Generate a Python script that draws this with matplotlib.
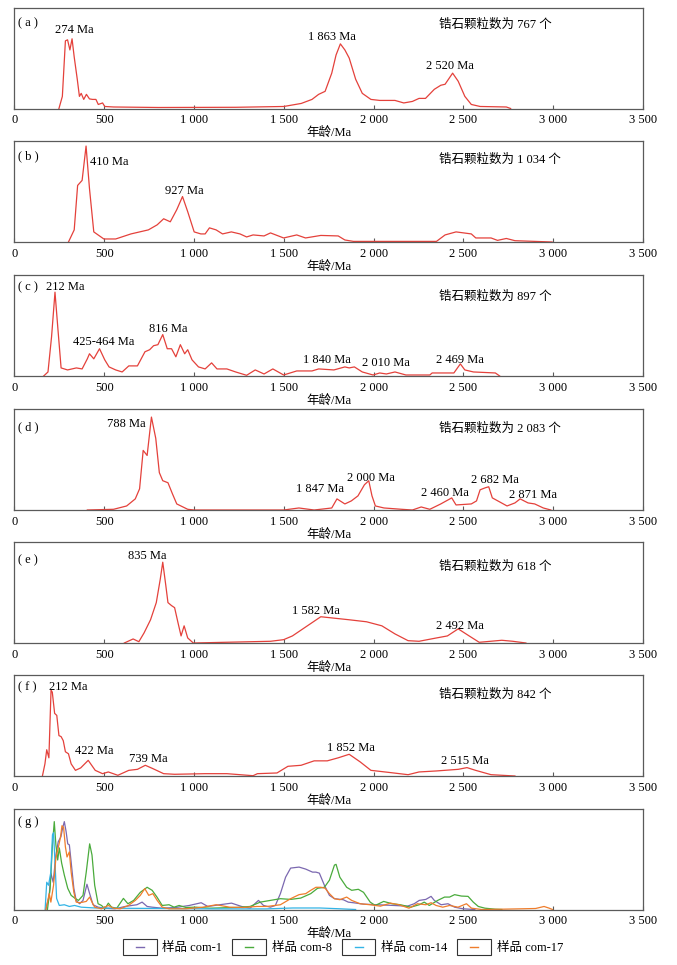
import numpy as np
import matplotlib
matplotlib.use('Agg')
import matplotlib.pyplot as plt
from matplotlib.legend_handler import HandlerBase
from matplotlib.patches import Rectangle
from matplotlib.lines import Line2D

plt.rcParams['font.family'] = ['Liberation Serif', 'Noto Sans CJK SC']
plt.rcParams['font.size'] = 9

# 各样品年龄谱 (年龄 Ma, 相对高度)
a_age = [248, 267, 284, 296, 309, 321, 333, 350, 362, 372, 386, 401, 418, 435, 454, 467, 491, 503,
         552, 800, 1232, 1500, 1597, 1657, 1694, 1730, 1767, 1791, 1815, 1840, 1864, 1900, 1937,
         1985, 2034, 2119, 2168, 2216, 2253, 2289, 2338, 2374, 2398, 2440, 2471, 2508, 2544, 2593,
         2739, 2763]
a_y = [0, 0.12, 0.67, 0.68, 0.58, 0.69, 0.51, 0.29, 0.12, 0.15, 0.09, 0.14, 0.095, 0.09, 0.09, 0.04,
       0.055, 0.02, 0.015, 0.01, 0.012, 0.02, 0.05, 0.09, 0.14, 0.17, 0.35, 0.53, 0.64, 0.58, 0.50,
       0.29, 0.15, 0.09, 0.08, 0.08, 0.055, 0.07, 0.10, 0.10, 0.19, 0.23, 0.24, 0.35, 0.27, 0.12,
       0.04, 0.02, 0.015, 0]

b_age = [301, 333, 352, 377, 399, 418, 442, 498, 564, 649, 746, 795, 831, 868, 904, 936, 965, 1001,
         1038, 1062, 1086, 1123, 1159, 1208, 1256, 1293, 1329, 1390, 1426, 1499, 1572, 1621, 1706,
         1803, 1840, 1888, 2350, 2398, 2459, 2544, 2569, 2654, 2690, 2739, 2787, 2994]
b_y = [0, 0.12, 0.56, 0.61, 0.95, 0.53, 0.10, 0.03, 0.03, 0.08, 0.12, 0.17, 0.23, 0.20, 0.32, 0.45,
       0.30, 0.10, 0.08, 0.08, 0.14, 0.12, 0.08, 0.10, 0.08, 0.05, 0.07, 0.06, 0.09, 0.04, 0.07, 0.04,
       0.065, 0.06, 0.02, 0.006, 0.006, 0.07, 0.10, 0.08, 0.04, 0.04, 0.016, 0.035, 0.013, 0]

c_age = [163, 187, 207, 226, 243, 260, 296, 345, 377, 406, 418, 442, 474, 503, 527, 564, 600, 637,
         685, 727, 753, 775, 799, 826, 851, 875, 899, 924, 948, 965, 989, 1025, 1062, 1098, 1128,
         1183, 1232, 1293, 1341, 1390, 1439, 1499, 1572, 1657, 1694, 1779, 1840, 1864, 1893, 1937,
         1997, 2034, 2071, 2119, 2180, 2313, 2326, 2447, 2483, 2508, 2556, 2678, 2702]
c_y = [0, 0.04, 0.39, 0.83, 0.45, 0.08, 0.06, 0.08, 0.07, 0.17, 0.22, 0.17, 0.27, 0.16, 0.09, 0.06,
       0.04, 0.10, 0.10, 0.24, 0.26, 0.30, 0.31, 0.41, 0.27, 0.27, 0.19, 0.31, 0.22, 0.26, 0.16, 0.09,
       0.07, 0.13, 0.07, 0.07, 0.04, 0.007, 0.06, 0.02, 0.07, 0.01, 0.05, 0.05, 0.07, 0.06, 0.09,
       0.08, 0.09, 0.04, 0.01, 0.03, 0.02, 0.04, 0.01, 0.01, 0.03, 0.03, 0.12, 0.06, 0.04, 0.03, 0]

d_age = [406, 552, 625, 673, 697, 717, 739, 763, 787, 807, 826, 855, 880, 904, 965, 1001, 1499, 1584,
         1669, 1767, 1796, 1840, 1876, 1913, 1949, 1973, 1991, 2010, 2058, 2156, 2216, 2265, 2313,
         2374, 2435, 2459, 2544, 2573, 2593, 2622, 2641, 2661, 2702, 2743, 2787, 2816, 2860, 2897,
         2945, 2987]
d_y = [0, 0.007, 0.04, 0.11, 0.21, 0.59, 0.54, 0.92, 0.71, 0.37, 0.29, 0.27, 0.16, 0.06, 0.007, 0,
       0, 0.02, 0, 0.02, 0.11, 0.06, 0.09, 0.14, 0.25, 0.29, 0.14, 0.04, 0.02, 0.007, 0, 0.03, 0.007,
       0.06, 0.12, 0.05, 0.06, 0.09, 0.20, 0.22, 0.23, 0.12, 0.08, 0.04, 0.07, 0.11, 0.07, 0.06,
       0.02, 0]

e_age = [612, 661, 693, 722, 758, 790, 812, 826, 843, 855, 875, 892, 911, 928, 945, 965, 996, 1426,
         1499, 1548, 1706, 1864, 1961, 2046, 2119, 2192, 2253, 2350, 2411, 2471, 2532, 2588, 2714,
         2775, 2848]
e_y = [0, 0.04, 0.013, 0.10, 0.23, 0.40, 0.63, 0.80, 0.57, 0.40, 0.37, 0.35, 0.20, 0.07, 0.17, 0.05,
       0, 0.017, 0.033, 0.07, 0.26, 0.23, 0.21, 0.17, 0.09, 0.023, 0.017, 0.05, 0.07, 0.14, 0.07,
       0.007, 0.027, 0.017, 0]

f_age = [156, 170, 180, 192, 204, 211, 224, 236, 248, 260, 272, 284, 301, 316, 340, 369, 411, 450,
         491, 523, 576, 637, 685, 729, 771, 831, 892, 1062, 1183, 1329, 1353, 1462, 1523, 1596, 1669,
         1742, 1803, 1864, 1925, 1985, 2083, 2192, 2253, 2350, 2471, 2520, 2568, 2654, 2787]
f_y = [0, 0.12, 0.26, 0.18, 0.85, 0.83, 0.62, 0.60, 0.40, 0.39, 0.35, 0.24, 0.22, 0.12, 0.056, 0.08,
       0.155, 0.056, 0.023, 0.04, 0.007, 0.056, 0.066, 0.106, 0.073, 0.023, 0.017, 0.023, 0.023,
       0.003, 0.023, 0.03, 0.096, 0.106, 0.15, 0.15, 0.18, 0.215, 0.14, 0.056, 0.036, 0.013, 0.04,
       0.05, 0.066, 0.083, 0.056, 0.013, 0]

# (g) 对比样品
g1_age = [175, 194, 203, 216, 231, 244, 259, 269, 278, 288, 297, 306, 316, 331, 344, 363, 382, 404,
          419, 438, 466, 504, 560, 617, 654, 682, 711, 739, 767, 823, 899, 974, 1040, 1077, 1143,
          1209, 1265, 1312, 1359, 1387, 1425, 1453, 1481, 1510, 1538, 1585, 1622, 1660, 1679, 1698,
          1726, 1754, 1782, 1831, 1859, 1887, 1944, 2019, 2113, 2188, 2226, 2254, 2291, 2320, 2338,
          2376, 2414, 2451, 2498, 2564]
g1_y = [0, 0.14, 0.36, 0.27, 0.54, 0.67, 0.72, 0.81, 0.87, 0.77, 0.65, 0.64, 0.47, 0.21, 0.09,
        0.057, 0.09, 0.25, 0.157, 0.047, 0.023, 0.013, 0.007, 0.03, 0.04, 0.047, 0.073, 0.03, 0.023,
        0.013, 0.02, 0.04, 0.067, 0.03, 0.047, 0.063, 0.03, 0.013, 0.09, 0.04, 0.023, 0.04, 0.157,
        0.32, 0.41, 0.42, 0.40, 0.37, 0.37, 0.36, 0.24, 0.14, 0.107, 0.097, 0.073, 0.067, 0.053,
        0.047, 0.04, 0.033, 0.057, 0.09, 0.10, 0.13, 0.09, 0.047, 0.057, 0.023, 0.007, 0]

g8_age = [184, 199, 212, 222, 231, 241, 250, 263, 278, 297, 316, 338, 357, 382, 400, 419, 432, 447,
          466, 485, 504, 523, 541, 570, 607, 632, 664, 701, 739, 767, 795, 823, 861, 889, 917, 955,
          1011, 1087, 1162, 1237, 1312, 1369, 1425, 1481, 1538, 1594, 1650, 1688, 1726, 1754, 1782,
          1791, 1812, 1850, 1878, 1915, 1944, 1981, 2009, 2056, 2103, 2150, 2207, 2254, 2282, 2310,
          2357, 2395, 2423, 2451, 2489, 2526, 2555, 2583, 2620, 2677, 2714]
g8_y = [0, 0.21, 0.64, 0.87, 0.64, 0.49, 0.61, 0.46, 0.34, 0.21, 0.14, 0.11, 0.09, 0.14, 0.37, 0.65,
        0.54, 0.24, 0.057, 0.04, 0.007, 0.063, 0.023, 0.013, 0.11, 0.057, 0.09, 0.17, 0.22, 0.19,
        0.12, 0.04, 0.047, 0.023, 0.04, 0.02, 0.023, 0.013, 0.017, 0.02, 0.03, 0.073, 0.09, 0.107,
        0.10, 0.113, 0.157, 0.21, 0.22, 0.29, 0.44, 0.447, 0.32, 0.22, 0.19, 0.20, 0.17, 0.073, 0.04,
        0.08, 0.057, 0.047, 0.023, 0.047, 0.073, 0.04, 0.09, 0.123, 0.123, 0.147, 0.133, 0.13, 0.073,
        0.03, 0.013, 0.003, 0]

g14_age = [171, 180, 190, 203, 212, 218, 226, 235, 250, 278, 306, 335, 372, 450, 600, 861, 1100,
           1400, 1550, 1700, 1800, 1900]
g14_y = [0, 0.27, 0.24, 0.37, 0.74, 0.76, 0.47, 0.11, 0.04, 0.047, 0.03, 0.04, 0.023, 0.015, 0.012,
         0.01, 0.006, 0.006, 0.015, 0.015, 0.008, 0]

g17_age = [175, 184, 194, 203, 218, 231, 244, 256, 265, 274, 284, 293, 306, 316, 331, 344, 363, 382,
           400, 419, 432, 447, 485, 523, 551, 588, 635, 673, 701, 726, 748, 771, 795, 823, 861, 955,
           1049, 1124, 1199, 1275, 1350, 1406, 1481, 1538, 1585, 1622, 1650, 1679, 1707, 1730, 1754,
           1782, 1812, 1850, 1878, 1925, 1981, 2038, 2094, 2141, 2197, 2244, 2291, 2320, 2348, 2385,
           2423, 2470, 2517, 2545, 2602, 2714, 2827, 2902, 2949, 2978, 2996]
g17_y = [0, 0.073, 0.157, 0.073, 0.24, 0.51, 0.61, 0.71, 0.83, 0.81, 0.62, 0.52, 0.57, 0.37, 0.17,
         0.073, 0.067, 0.073, 0.08, 0.123, 0.073, 0.023, 0.007, 0.04, 0.013, 0.007, 0.04, 0.09, 0.14,
         0.207, 0.14, 0.157, 0.09, 0.023, 0.007, 0.007, 0.023, 0.047, 0.023, 0.02, 0.03, 0.03, 0.047,
         0.107, 0.147, 0.157, 0.19, 0.22, 0.22, 0.21, 0.157, 0.107, 0.097, 0.123, 0.09, 0.057, 0.047,
         0.033, 0.063, 0.047, 0.013, 0.057, 0.047, 0.067, 0.04, 0.023, 0.04, 0.023, 0.057, 0.013, 0,
         0.003, 0.007, 0.01, 0.03, 0.013, 0]

xticks = [0, 500, 1000, 1500, 2000, 2500, 3000, 3500]
xtick_labels = ['0', '500', '1 000', '1 500', '2 000', '2 500', '3 000', '3 500']

panel_names = ['( a )', '( b )', '( c )', '( d )', '( e )', '( f )', '( g )']
grain_counts = ['767', '1 034', '897', '2 083', '618', '842']

# 峰值标注: (文字, 年龄位置, 高度位置, 对齐)
peak_labels = [
    [('274 Ma', 333, 0.78, 'center'), ('1 863 Ma', 1767, 0.71, 'center'), ('2 520 Ma', 2423, 0.42, 'center')],
    [('410 Ma', 423, 0.79, 'left'), ('927 Ma', 945, 0.50, 'center')],
    [('212 Ma', 175, 0.88, 'left'), ('425-464 Ma', 498, 0.34, 'center'), ('816 Ma', 855, 0.47, 'center'),
     ('1 840 Ma', 1742, 0.16, 'center'), ('2 010 Ma', 2070, 0.13, 'center'), ('2 469 Ma', 2483, 0.16, 'center')],
    [('788 Ma', 729, 0.85, 'right'), ('1 847 Ma', 1701, 0.21, 'center'), ('2 000 Ma', 1985, 0.32, 'center'),
     ('2 460 Ma', 2398, 0.17, 'center'), ('2 682 Ma', 2678, 0.30, 'center'), ('2 871 Ma', 2889, 0.15, 'center')],
    [('835 Ma', 739, 0.86, 'center'), ('1 582 Ma', 1681, 0.32, 'center'), ('2 492 Ma', 2479, 0.17, 'center')],
    [('212 Ma', 190, 0.88, 'left'), ('422 Ma', 442, 0.25, 'center'), ('739 Ma', 746, 0.17, 'center'),
     ('1 852 Ma', 1876, 0.28, 'center'), ('2 515 Ma', 2508, 0.15, 'center')],
]

single = [(a_age, a_y), (b_age, b_y), (c_age, c_y), (d_age, d_y), (e_age, e_y), (f_age, f_y)]
group = [(g1_age, g1_y, '样品 com-1', '#7b68b0'),
         (g8_age, g8_y, '样品 com-8', '#4aab3c'),
         (g14_age, g14_y, '样品 com-14', '#33b4e6'),
         (g17_age, g17_y, '样品 com-17', '#ef7d2c')]

red = '#e4413b'
frame = '#5a5a5a'

panel_tops = [7.5, 141, 275, 409, 542, 675, 808.5]   # 像素
panel_h = 101
label_y = [0.84, 0.85, 0.88, 0.82, 0.82, 0.88, 0.87]
count_y = [0.83, 0.81, 0.78, 0.80, 0.75, 0.80]

W, H = 677, 965
fig = plt.figure(figsize=(W / 100, H / 100), dpi=100)

axes = []
for i, top in enumerate(panel_tops):
    ax = fig.add_axes([14.4 / W, 1 - (top + panel_h) / H, (643 - 14.4) / W, panel_h / H])
    axes.append(ax)
    ax.set_xlim(0, 3500)
    ax.set_ylim(0, 1)
    ax.set_yticks([])
    ax.set_xticks(xticks)
    ax.set_xticklabels(xtick_labels)
    ax.tick_params(axis='x', direction='in', length=3, width=0.8, color=frame, pad=4, labelsize=9)
    for sp in ax.spines.values():
        sp.set_color(frame)
        sp.set_linewidth(0.9)
    ax.set_xlabel('年龄/Ma', fontsize=9, labelpad=0.5)
    ax.text(0.006, label_y[i], panel_names[i], transform=ax.transAxes, ha='left', va='center', fontsize=9)

for i, (x, y) in enumerate(single):
    ax = axes[i]
    ax.plot(x, y, color=red, lw=0.9)
    for txt, px, py, ha in peak_labels[i]:
        ax.text(px, py, txt, ha=ha, va='center', fontsize=9)
    ax.text(0.675, count_y[i], '锆石颗粒数为 ' + grain_counts[i] + ' 个', transform=ax.transAxes,
            ha='left', va='center', fontsize=9)

axg = axes[6]
handles = []
for x, y, name, c in group:
    ln, = axg.plot(x, y, color=c, lw=0.9, label=name)
    handles.append(ln)


class BoxLine(HandlerBase):
    def create_artists(self, legend, orig_handle, xdescent, ydescent, width, height, fontsize, trans):
        x0, y0 = -xdescent, -ydescent
        box = Rectangle((x0, y0), width, height, fill=False, ec='#333333', lw=0.8, transform=trans)
        line = Line2D([x0 + width * 0.38, x0 + width * 0.62], [y0 + height / 2] * 2,
                      color=orig_handle.get_color(), lw=1, transform=trans)
        return [box, line]


fig.legend(handles=handles, loc='center', bbox_to_anchor=(343 / W, 1 - 947 / H), ncol=4,
           frameon=False, fontsize=9, handler_map={Line2D: BoxLine()},
           handlelength=2.7, handleheight=1.5, handletextpad=0.45, columnspacing=0.8)

fig.savefig('out.png', dpi=100)
